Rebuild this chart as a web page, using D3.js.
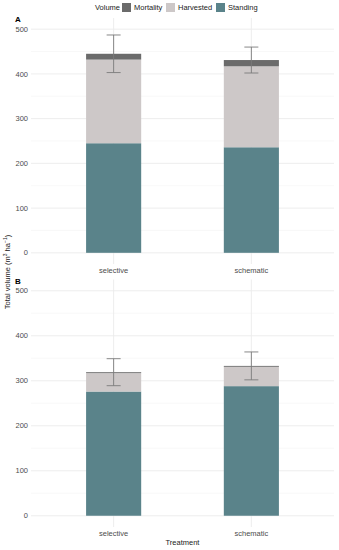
<!DOCTYPE html>
<html>
<head>
<meta charset="utf-8">
<script src="https://cdn.jsdelivr.net/npm/d3@7"></script>
<style>
  body { margin: 0; background: #fff; }
  svg text { font-family: "Liberation Sans", Arial, sans-serif; }
</style>
</head>
<body>
<div id="chart"></div>
<script>
// data
const treatments = ["selective", "schematic"];
const components = ["Standing", "Harvested", "Mortality"];
const legendOrder = ["Mortality", "Harvested", "Standing"];
const panelLabels = ["A", "B"];
const standingA = [245, 236];
const harvestedA = [187, 181];
const mortalityA = [13, 14];
const errorA = [42, 29];
const standingB = [276, 288];
const harvestedB = [41, 43];
const mortalityB = [2, 2];
const errorB = [30, 31];
const yTicks = [0, 100, 200, 300, 400, 500];

const colors = { Mortality: "#6b6b6b", Harvested: "#cdc8c8", Standing: "#5a838a" };

const width = 339, height = 550;
const margin = { left: 31, right: 5 };

const svg = d3.select("#chart").append("svg")
  .attr("width", width)
  .attr("height", height);

const x = d3.scaleBand()
  .domain(treatments)
  .range([margin.left, width - margin.right])
  .paddingInner(0.6 / 1.1 * 1.0)
  .paddingOuter(0);

// ggplot style discrete scale: centers at 1,2 within [0.4, 2.6], bar width 0.4
const xc = d3.scalePoint().domain(treatments).range([0.6, 1.6].map(v => margin.left + v / 2.2 * (width - margin.right - margin.left)));
const unit = (width - margin.right - margin.left) / 2.2;
const barW = 0.4 * unit;

function panel(top, bottom, label, standing, harvested, mortality, err) {
  const y = d3.scaleLinear().domain([-25, 525]).range([bottom, top]);
  const g = svg.append("g");

  // minor grid
  g.selectAll(".minor").data([50, 150, 250, 350, 450])
    .join("line")
    .attr("x1", margin.left).attr("x2", width - margin.right)
    .attr("y1", d => y(d)).attr("y2", d => y(d))
    .attr("stroke", "#f4f4f4").attr("stroke-width", 0.6);

  g.selectAll(".major").data(yTicks)
    .join("line")
    .attr("x1", margin.left).attr("x2", width - margin.right)
    .attr("y1", d => y(d)).attr("y2", d => y(d))
    .attr("stroke", "#ebebeb").attr("stroke-width", 0.9);

  g.selectAll(".vgrid").data(treatments)
    .join("line")
    .attr("x1", d => xc(d)).attr("x2", d => xc(d))
    .attr("y1", top).attr("y2", bottom)
    .attr("stroke", "#ebebeb").attr("stroke-width", 0.9);

  // tick labels
  g.selectAll(".ytick").data(yTicks)
    .join("text")
    .attr("x", margin.left - 3)
    .attr("y", d => y(d))
    .attr("dy", "0.35em")
    .attr("text-anchor", "end")
    .attr("font-size", 7.5)
    .attr("fill", "#4d4d4d")
    .text(d => d);

  g.selectAll(".xtick").data(treatments)
    .join("text")
    .attr("x", d => xc(d))
    .attr("y", bottom + 9)
    .attr("text-anchor", "middle")
    .attr("font-size", 7.5)
    .attr("fill", "#4d4d4d")
    .text(d => d);

  // stacked bars
  const rows = treatments.map((t, i) => ({
    treatment: t,
    Standing: standing[i],
    Harvested: harvested[i],
    Mortality: mortality[i],
    err: err[i]
  }));
  const series = d3.stack().keys(components)(rows);

  g.selectAll(".layer").data(series)
    .join("g")
    .attr("fill", d => colors[d.key])
    .selectAll("rect")
    .data(d => d)
    .join("rect")
    .attr("x", d => xc(d.data.treatment) - barW / 2)
    .attr("width", barW)
    .attr("y", d => y(d[1]))
    .attr("height", d => y(d[0]) - y(d[1]));

  // error bars
  const eb = g.selectAll(".err").data(rows)
    .join("g")
    .attr("stroke", "#7a7a7a")
    .attr("stroke-width", 0.9);
  const total = d => d.Standing + d.Harvested + d.Mortality;
  eb.append("line")
    .attr("x1", d => xc(d.treatment)).attr("x2", d => xc(d.treatment))
    .attr("y1", d => y(total(d) + d.err)).attr("y2", d => y(total(d) - d.err));
  eb.append("line")
    .attr("x1", d => xc(d.treatment) - 7).attr("x2", d => xc(d.treatment) + 7)
    .attr("y1", d => y(total(d) + d.err)).attr("y2", d => y(total(d) + d.err));
  eb.append("line")
    .attr("x1", d => xc(d.treatment) - 7).attr("x2", d => xc(d.treatment) + 7)
    .attr("y1", d => y(total(d) - d.err)).attr("y2", d => y(total(d) - d.err));

  // panel tag
  g.append("text")
    .attr("x", 15)
    .attr("y", top + 4)
    .attr("font-size", 8)
    .attr("font-weight", "bold")
    .attr("fill", "#000")
    .text(label);
}

panel(18, 264, panelLabels[0], standingA, harvestedA, mortalityA, errorA);
panel(279.5, 527, panelLabels[1], standingB, harvestedB, mortalityB, errorB);

// y axis title
svg.append("text")
  .attr("transform", "translate(10,272) rotate(-90)")
  .attr("text-anchor", "middle")
  .attr("font-size", 7.5)
  .attr("fill", "#222")
  .html('Total volume (m<tspan dy="-3" font-size="5">3</tspan><tspan dy="3"> ha</tspan><tspan dy="-3" font-size="5">−1</tspan><tspan dy="3">)</tspan>');

// x axis title
svg.append("text")
  .attr("x", (margin.left + width - margin.right) / 2)
  .attr("y", 545)
  .attr("text-anchor", "middle")
  .attr("font-size", 7.5)
  .attr("fill", "#222")
  .text("Treatment");

// legend
const legend = svg.append("g");
legend.append("text")
  .attr("x", 95).attr("y", 10)
  .attr("font-size", 7.5).attr("fill", "#222")
  .text("Volume");
const keyX = [122, 166, 216];
legendOrder.forEach((k, i) => {
  legend.append("rect")
    .attr("x", keyX[i]).attr("y", 3)
    .attr("width", 9).attr("height", 9)
    .attr("fill", colors[k]);
  legend.append("text")
    .attr("x", keyX[i] + 12).attr("y", 10)
    .attr("font-size", 7.5).attr("fill", "#222")
    .text(k);
});
</script>
</body>
</html>
